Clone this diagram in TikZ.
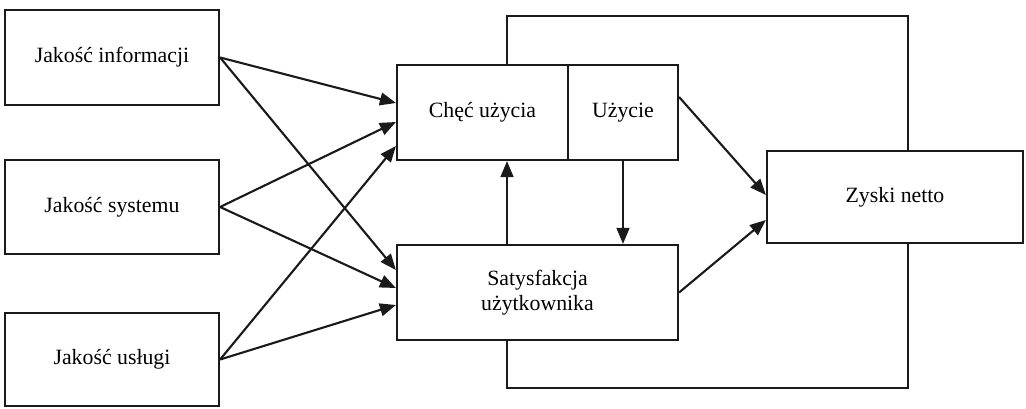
\documentclass[tikz,border=0pt]{standalone}
\usepackage{fontspec}
\setmainfont{Liberation Serif}
\usepackage{tikz}
\usetikzlibrary{arrows.meta, positioning, calc}
\definecolor{cLine}{HTML}{1A1A1A}
\tikzset{
  box/.style={
    rectangle, draw=cLine, line width=1.5pt, fill=white,
    minimum height=2.375cm, inner sep=2pt, align=center,
    font=\fontsize{15.5}{18}\selectfont
  },
  qbox/.style={box, minimum width=5.35cm},
  arrow/.style={-{Triangle[length=0.4cm, width=0.32cm]}, line width=1.5pt, cLine},
  loop/.style={line width=1.5pt, cLine},
}

\begin{document}
\begin{tikzpicture}[x=0.025cm, y=-0.025cm]
  \useasboundingbox (0,0) rectangle (1026,408);

  % quality dimensions
  \node[qbox] (info) at (112,57.5) {Jakość informacji};
  \node[qbox, minimum height=2.35cm] (sys) at (112,207) {Jakość systemu};
  \node[qbox, minimum height=2.325cm] (serv) at (112,359.5) {Jakość usługi};

  % use / satisfaction / net benefits
  \node[box, minimum width=4.275cm] (chec) at (482.5,112.5) {Chęć użycia};
  \node[box, minimum width=2.75cm] (uzy) at (623,112.5) {Użycie};
  \node[box, minimum width=7.025cm] (sat) at (537.5,292.5) {Satysfakcja\\użytkownika};
  \node[box, minimum width=6.4cm, minimum height=2.3cm] (zysk) at (895,197) {Zyski netto};

  \coordinate (lt) at (507,16);
  \coordinate (rt) at (908,16);
  \coordinate (lb) at (507,388);
  \coordinate (rb) at (908,388);

  \draw[arrow] (info.east) -- ($(chec.west)+(0,-9.5)$);
  \draw[arrow] (sys.east)  -- ($(chec.west)+(0,9.5)$);
  \draw[arrow] (serv.east) -- ($(chec.west)+(0,33.5)$);
  \draw[arrow] (info.east) -- ($(sat.west)+(0,-22.5)$);
  \draw[arrow] (sys.east)  -- ($(sat.west)+(0,-4.5)$);
  \draw[arrow] (serv.east) -- ($(sat.west)+(0,12.5)$);

  \draw[arrow] (sat.north -| lt) -- (chec.south -| lt);
  \draw[arrow] (uzy.south) -- (uzy.south |- sat.north);

  \draw[arrow] ($(uzy.east)+(0,-15.5)$) -- ($(zysk.west)+(0,-2)$);
  \draw[arrow] (sat.east) -- ($(zysk.west)+(0,23)$);

  % feedback loops
  \draw[loop] (chec.north -| lt) -- (lt) -- (rt) -- (zysk.north -| rt);
  \draw[loop] (sat.south -| lb) -- (lb) -- (rb) -- (zysk.south -| rb);

\end{tikzpicture}
\end{document}
